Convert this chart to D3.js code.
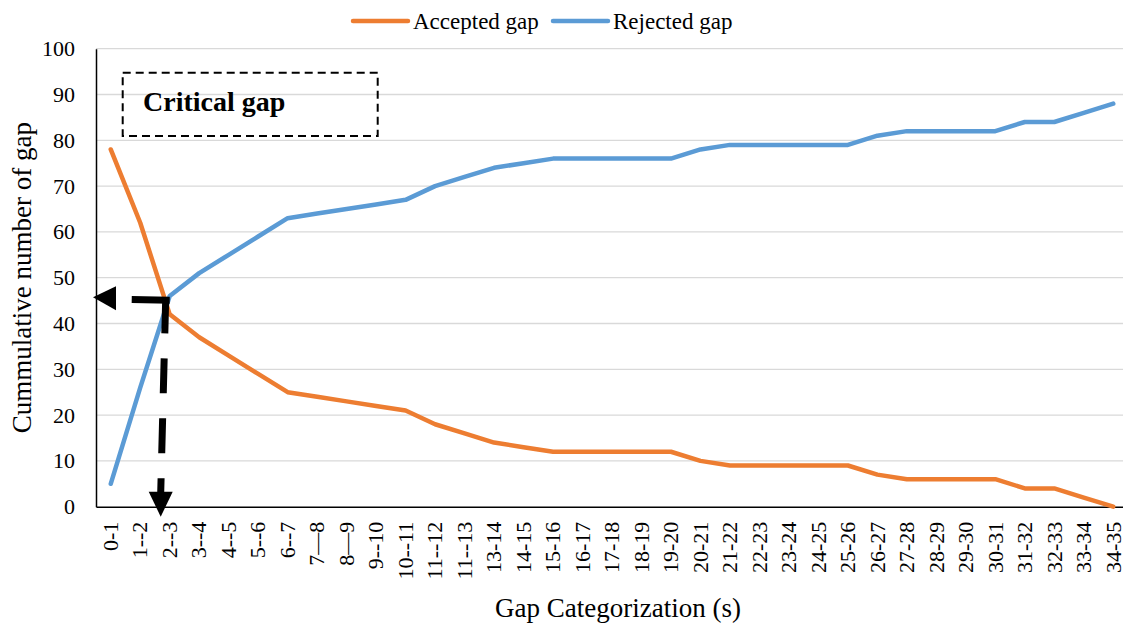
<!DOCTYPE html>
<html>
<head>
<meta charset="utf-8">
<script src="https://cdn.jsdelivr.net/npm/d3@7/dist/d3.min.js"></script>
<style>
  html, body { margin: 0; padding: 0; background: #fff; }
  svg text { font-family: "Liberation Serif", Tinos, "Times New Roman", "DejaVu Serif", serif !important; fill: #000; }
</style>
</head>
<body>
<svg id="chart" width="1123" height="626"></svg>
<script>
// Categorias del eje X (tal como aparecen en la figura)
const categories = ["0-1", "1--2", "2--3", "3--4", "4--5", "5--6", "6--7", "7\u20148", "8\u20149", "9--10",
  "10--11", "11--12", "11--13", "13-14", "14-15", "15-16", "16-17", "17-18", "18-19", "19-20",
  "20-21", "21-22", "22-23", "23-24", "24-25", "25-26", "26-27", "27-28", "28-29", "29-30",
  "30-31", "31-32", "32-33", "33-34", "34-35"];

// Series acumuladas
const acceptedGap = [78, 62, 42, 37, 33, 29, 25, 24, 23, 22, 21, 18, 16, 14, 13, 12, 12, 12, 12, 12,
  10, 9, 9, 9, 9, 9, 7, 6, 6, 6, 6, 4, 4, 2, 0];
const rejectedGap = [5, 26, 46, 51, 55, 59, 63, 64, 65, 66, 67, 70, 72, 74, 75, 76, 76, 76, 76, 76,
  78, 79, 79, 79, 79, 79, 81, 82, 82, 82, 82, 84, 84, 86, 88];

const yTicks = [0, 10, 20, 30, 40, 50, 60, 70, 80, 90, 100];

// Anotacion: brecha critica
const criticalCategory = "2--3";
const criticalValue = 45.5;

const ORANGE = "#ED7D31";
const BLUE = "#5B9BD5";
const GRID = "#D9D9D9";
const SERIF = '"Liberation Serif", Tinos, "Times New Roman", "DejaVu Serif", serif';

const svg = d3.select("#chart");
const plot = { left: 96, right: 1128, top: 48.7, bottom: 506.7 };

const x = d3.scaleBand().domain(categories).range([plot.left, plot.right]).padding(0);
const y = d3.scaleLinear().domain([0, 100]).range([plot.bottom, plot.top]);
const cx = c => x(c) + x.bandwidth() / 2;

// Lineas de cuadricula
svg.append("g").selectAll("line")
  .data(yTicks.filter(t => t > 0))
  .enter().append("line")
  .attr("x1", plot.left).attr("x2", 1123)
  .attr("y1", d => y(d)).attr("y2", d => y(d))
  .attr("stroke", GRID).attr("stroke-width", 1.3);

// Eje Y
const yAxis = d3.axisLeft(y).tickValues(yTicks).tickSize(0).tickPadding(21);
const gy = svg.append("g").attr("transform", `translate(${plot.left},0)`).call(yAxis)
  .attr("font-family", SERIF).attr("font-size", 22);
gy.select(".domain").attr("stroke", "#000").attr("stroke-width", 1.5);

// Eje X
const xAxis = d3.axisBottom(x).tickSize(0);
const gx = svg.append("g").attr("transform", `translate(0,${plot.bottom})`).call(xAxis)
  .attr("font-family", SERIF).attr("font-size", 22);
gx.select(".domain").attr("stroke", "#000").attr("stroke-width", 1.5);
gx.selectAll("text")
  .attr("text-anchor", "end")
  .attr("transform", "rotate(-90)")
  .attr("x", -15).attr("y", 0).attr("dy", "0.33em");

// Series
const line = d3.line().x((d, i) => cx(categories[i])).y(d => y(d));
[[acceptedGap, ORANGE], [rejectedGap, BLUE]].forEach(([data, color]) => {
  svg.append("path")
    .datum(data)
    .attr("d", line)
    .attr("fill", "none")
    .attr("stroke", color)
    .attr("stroke-width", 4.5)
    .attr("stroke-linecap", "round")
    .attr("stroke-linejoin", "round");
});

// Leyenda
const legendItems = [
  { label: "Accepted gap", color: ORANGE, x: 353 },
  { label: "Rejected gap", color: BLUE, x: 553 }
];
legendItems.forEach(item => {
  svg.append("line")
    .attr("x1", item.x).attr("x2", item.x + 55)
    .attr("y1", 21).attr("y2", 21)
    .attr("stroke", item.color).attr("stroke-width", 4.5).attr("stroke-linecap", "round");
  svg.append("text")
    .attr("x", item.x + 60).attr("y", 29)
    .attr("font-size", 23)
    .text(item.label);
});

// Caja "Critical gap"
svg.append("rect")
  .attr("x", 122.7).attr("y", 72.7).attr("width", 255).attr("height", 63.3)
  .attr("fill", "none").attr("stroke", "#000").attr("stroke-width", 2)
  .attr("stroke-dasharray", "8,5");
svg.append("text")
  .attr("x", 143).attr("y", 111)
  .attr("font-size", 28).attr("font-weight", "bold")
  .text("Critical gap");

// Flechas discontinuas
const critX = cx(criticalCategory);
const critY = y(criticalValue);
const axisX = plot.left;

// horizontal hacia el eje Y
svg.append("path")
  .attr("d", `M${critX},${critY + 2} L${axisX + 20},${critY + 1}`)
  .attr("stroke", "#000").attr("stroke-width", 7).attr("fill", "none")
  .attr("stroke-dasharray", "38,25");
svg.append("path")
  .attr("d", `M${axisX - 3},${critY - 1} L${axisX + 20},${critY - 12} L${axisX + 20},${critY + 12} Z`)
  .attr("fill", "#000");

// vertical hacia el eje X
const tipY = plot.bottom + 10;
svg.append("path")
  .attr("d", `M${critX - 4},${critY} L${critX - 9},${tipY - 24}`)
  .attr("stroke", "#000").attr("stroke-width", 7).attr("fill", "none")
  .attr("stroke-dasharray", "35,25");
svg.append("path")
  .attr("d", `M${critX - 9},${tipY} L${critX - 21},${tipY - 25} L${critX + 3},${tipY - 25} Z`)
  .attr("fill", "#000");

// Titulos de ejes
svg.append("text")
  .attr("transform", `translate(31,${(plot.top + plot.bottom) / 2}) rotate(-90)`)
  .attr("text-anchor", "middle")
  .attr("font-size", 27)
  .text("Cummulative number of gap");

svg.append("text")
  .attr("x", 618).attr("y", 617)
  .attr("text-anchor", "middle")
  .attr("font-size", 27)
  .text("Gap Categorization (s)");
</script>
</body>
</html>
